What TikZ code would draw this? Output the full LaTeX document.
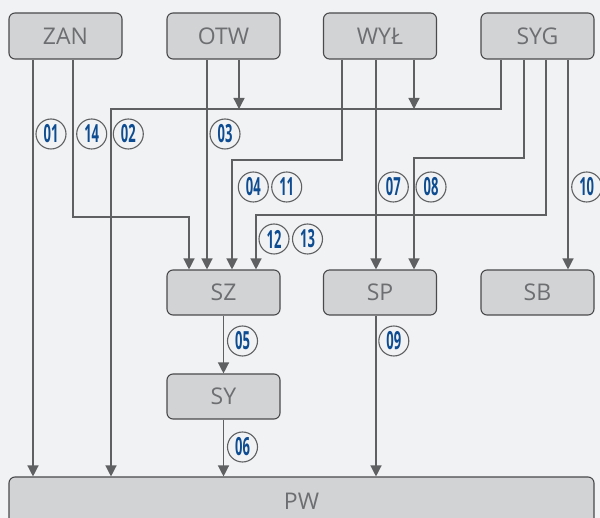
\documentclass[tikz,border=0pt]{standalone}
\usepackage{fontspec}
\usepackage{graphicx}
\setmainfont{Open Sans}
\newfontfamily\numfont{Open Sans}
\usetikzlibrary{arrows.meta}
\definecolor{bgcol}{HTML}{F1F2F4}
\definecolor{boxfill}{HTML}{D1D3D4}
\definecolor{boxline}{HTML}{4A4A4C}
\definecolor{boxtext}{HTML}{6D6E71}
\definecolor{wire}{HTML}{5F6062}
\definecolor{numblue}{HTML}{0E4C92}
\newcommand\numlbl[1]{\scalebox{0.52}[1]{#1}}
\tikzset{
  box/.style={draw=boxline, line width=1.1pt, fill=boxfill, rounded corners=6pt,
    inner sep=0pt, text=boxtext, font=\fontsize{23}{23}\selectfont},
  num/.style={circle, draw=wire, line width=1.1pt, fill=bgcol, minimum size=30pt,
    inner sep=0pt, text=numblue, font=\numfont\bfseries\fontsize{25}{25}\selectfont},
  wireline/.style={draw=wire, line width=1.3pt},
  arr/.style={wireline, -{Triangle[width=11pt,length=11pt]}},
}
\begin{document}
\begin{tikzpicture}[x=1pt, y=-1pt]
  \useasboundingbox (0,0) rectangle (600,518);
  \fill[bgcol] (0,0) rectangle (600,518);
  \clip (0,0) rectangle (600,518);

  % boxes
  \node[box, minimum width=113pt, minimum height=46pt] (ZAN) at (65.5,36) {ZAN};
  \node[box, minimum width=113pt, minimum height=46pt] (OTW) at (223.5,36) {OTW};
  \node[box, minimum width=113pt, minimum height=46pt] (WYL) at (380,36) {WYŁ};
  \node[box, minimum width=113pt, minimum height=46pt] (SYG) at (537.5,36) {SYG};
  \node[box, minimum width=113pt, minimum height=45pt] (SZ) at (223.5,292.5) {SZ};
  \node[box, minimum width=113pt, minimum height=45pt] (SP) at (380,292.5) {SP};
  \node[box, minimum width=113pt, minimum height=45pt] (SB) at (537.5,292.5) {SB};
  \node[box, minimum width=113pt, minimum height=45pt] (SY) at (223.5,396.5) {SY};
  \node[box, minimum width=585pt, minimum height=48pt] (PW) at (301.5,501) {PW};

  % column and row guides for the wiring
  \foreach \c in {33,73,111,189,207,223.5,232,239,256,342,376,380,414,501,524,546,568}
    \coordinate (x\c) at (\c,0);
  \foreach \r in {109,158,160,215,217}
    \coordinate (y\r) at (0,\r);

  % connectors
  \draw[arr] (ZAN.south -| x33) -- (PW.north -| x33);
  \draw[arr] (ZAN.south -| x73) -- (x73 |- y217) -- (x189 |- y217) -- (SZ.north -| x189);
  \draw[arr] (SYG.south -| x501) -- (x501 |- y109) -- (x111 |- y109) -- (PW.north -| x111);
  \draw[arr] (OTW.south -| x239) -- (x239 |- y109);
  \draw[arr] (WYL.south -| x414) -- (x414 |- y109);
  \draw[arr] (OTW.south -| x207) -- (SZ.north -| x207);
  \draw[arr] (WYL.south -| x342) -- (x342 |- y160) -- (x232 |- y160) -- (SZ.north -| x232);
  \draw[arr] (WYL.south -| x376) -- (SP.north -| x376);
  \draw[arr] (SYG.south -| x524) -- (x524 |- y158) -- (x414 |- y158) -- (SP.north -| x414);
  \draw[arr] (SYG.south -| x546) -- (x546 |- y215) -- (x256 |- y215) -- (SZ.north -| x256);
  \draw[arr] (SYG.south -| x568) -- (SB.north -| x568);
  \draw[arr] (SZ.south) -- (SY.north);
  \draw[arr] (SY.south) -- (PW.north -| SY.south);
  \draw[arr] (SP.south -| x376) -- (PW.north -| x376);

  % numbered labels
  \node[num] (n01) at (51,134) {\numlbl{01}};
  \node[num] (n14) at (91.7,134) {\numlbl{14}};
  \node[num] (n02) at (128.3,134) {\numlbl{02}};
  \node[num] (n03) at (225,134) {\numlbl{03}};
  \node[num] (n04) at (253.3,187) {\numlbl{04}};
  \node[num] (n11) at (286.7,187) {\numlbl{11}};
  \node[num] (n07) at (393.3,187) {\numlbl{07}};
  \node[num] (n08) at (431,187) {\numlbl{08}};
  \node[num] (n10) at (586.7,187) {\numlbl{10}};
  \node[num] (n12) at (274,239) {\numlbl{12}};
  \node[num] (n13) at (307.5,239) {\numlbl{13}};
  \node[num] (n05) at (242.5,341) {\numlbl{05}};
  \node[num] (n06) at (242.5,447) {\numlbl{06}};
  \node[num] (n09) at (393.8,341) {\numlbl{09}};
\end{tikzpicture}
\end{document}
